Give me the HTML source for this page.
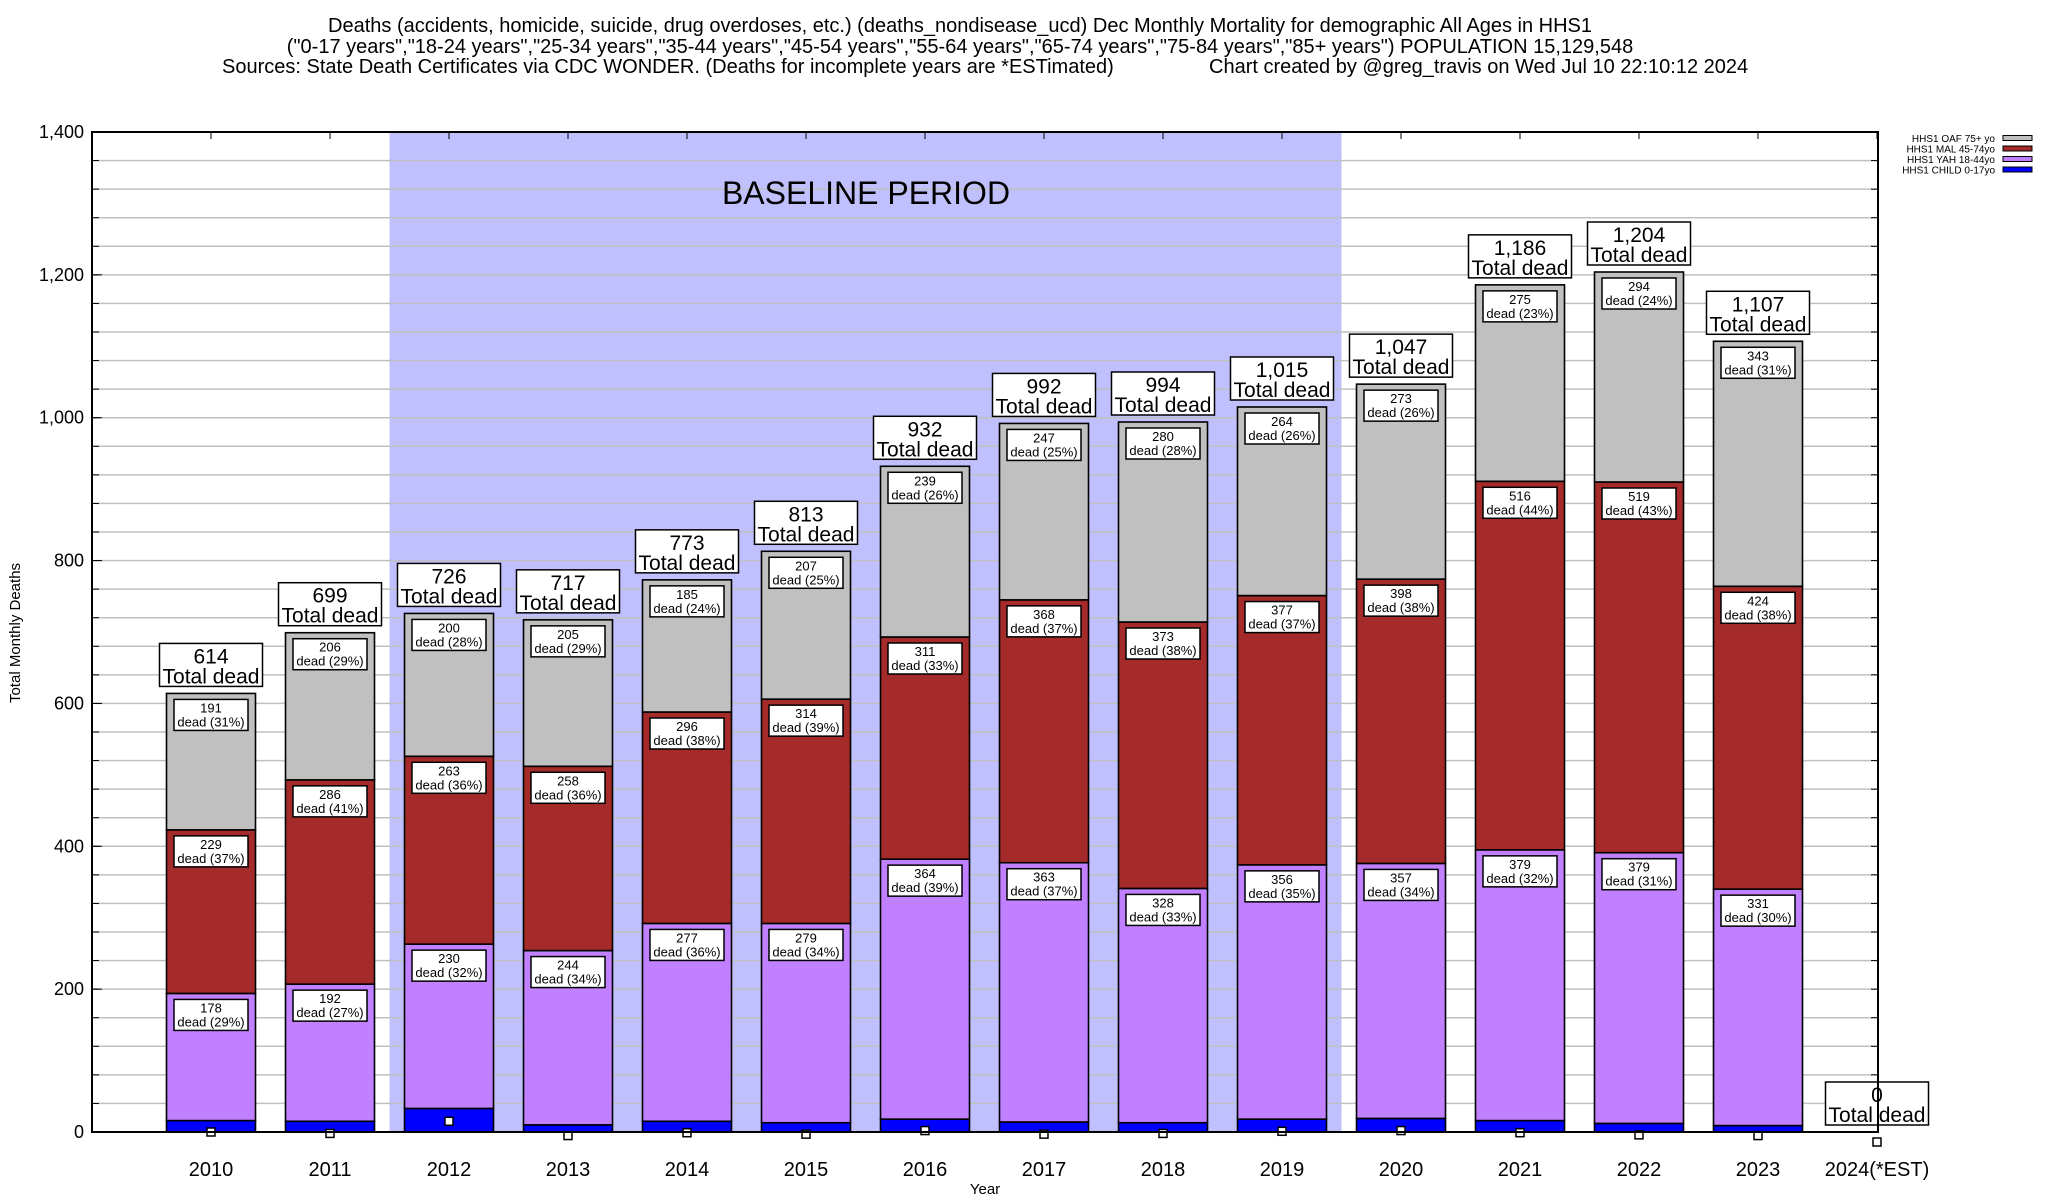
<!DOCTYPE html>
<html><head><meta charset="utf-8"><style>
body{margin:0;background:#fff;}
svg{display:block;font-family:"Liberation Sans",Arial,sans-serif;}
</style></head><body>
<svg id="chart" width="2048" height="1200" viewBox="0 0 2048 1200" xmlns="http://www.w3.org/2000/svg">
<g font-size="20" fill="#000">
<text x="960" y="32" text-anchor="middle">Deaths (accidents, homicide, suicide, drug overdoses, etc.) (deaths_nondisease_ucd) Dec Monthly Mortality for demographic All Ages in HHS1</text>
<text x="960" y="53" text-anchor="middle">("0-17 years","18-24 years","25-34 years","35-44 years","45-54 years","55-64 years","65-74 years","75-84 years","85+ years") POPULATION 15,129,548</text>
<text x="222" y="73">Sources: State Death Certificates via CDC WONDER. (Deaths for incomplete years are *ESTimated)</text>
<text x="1209" y="73">Chart created by @greg_travis on Wed Jul 10 22:10:12 2024</text>
</g>
<g id="plot"></g>
</svg>
<script>
const categories=["2010","2011","2012","2013","2014","2015","2016","2017","2018","2019","2020","2021","2022","2023","2024(*EST)"];
const childVals=[16,15,33,10,15,13,18,14,13,18,19,16,12,9,0];
const yahVals=[178,192,230,244,277,279,364,363,328,356,357,379,379,331,0];
const malVals=[229,286,263,258,296,314,311,368,373,377,398,516,519,424,0];
const oafVals=[191,206,200,205,185,207,239,247,280,264,273,275,294,343,0];
const totals=[614,699,726,717,773,813,932,992,994,1015,1047,1186,1204,1107,0];
const markerVals=[0,-2,15,-5,-1,-3,2,-3,-2,1,2,-1,-4,-5,-14];
const yTicks=[0,200,400,600,800,1000,1200,1400];
const baselineStart=2, baselineEnd=9;

const NS="http://www.w3.org/2000/svg";
const plot=document.getElementById('plot');
const L=92,R=1878,T=132,B=1132,step=119;
const x=i=>L+(i+1)*step;
const y=v=>B-v*(B-T)/1400;
function mk(tag,attrs,parent){const e=document.createElementNS(NS,tag);for(const k in attrs)e.setAttribute(k,attrs[k]);(parent||plot).appendChild(e);return e;}
function fmt(n){return n.toLocaleString('en-US');}

let sh=mk('rect',{x:x(baselineStart)-step/2,y:T,width:(baselineEnd-baselineStart+1)*step,height:B-T,fill:'#c0c0ff'});


for(let v=40;v<1400;v+=40){
  let g=mk('line',{x1:L,x2:R,y1:y(v),y2:y(v),stroke:'#c0c0c0','stroke-width':1.5});
  
  
  mk('line',{x1:L,x2:L+7,y1:y(v),y2:y(v),stroke:'#000'});
  mk('line',{x1:R-7,x2:R,y1:y(v),y2:y(v),stroke:'#000'});
}
let bt=mk('text',{x:866,y:204,'font-size':32,'text-anchor':'middle'});
bt.textContent='BASELINE PERIOD';



yTicks.forEach(v=>{
  let t=mk('text',{x:84,y:y(v)+6,'font-size':18,'text-anchor':'end'});
  t.textContent=fmt(v);
  
  
  mk('line',{x1:L,x2:L+10,y1:y(v),y2:y(v),stroke:'#000'});
});
const colors=['#0000ff','#c080ff','#a52a2a','#c0c0c0'];
const names=['child','yah','mal','oaf'];
const series=[childVals,yahVals,malVals,oafVals];
categories.forEach((c,i)=>{
  const cx=x(i),w=89;
  mk('line',{x1:cx,x2:cx,y1:T,y2:T+7,stroke:'#000'});
  let base=0;
  if(totals[i]>0){
  series.forEach((s,k)=>{
    const v=s[i];
    let r=mk('rect',{x:cx-w/2,y:y(base+v),width:w,height:y(base)-y(base+v),fill:colors[k],stroke:'#000','stroke-width':1.6});
    
    
    if(k>0){
      const top=y(base+v);
      let bx=mk('rect',{x:cx-37,y:top+6,width:74,height:31,fill:'#fff',stroke:'#000','stroke-width':1.5});
      
      
      let t1=mk('text',{x:cx,y:top+19,'font-size':13,'text-anchor':'middle'});t1.textContent=v;
      
      
      let t2=mk('text',{x:cx,y:top+33,'font-size':13,'text-anchor':'middle'});t2.textContent='dead ('+Math.round(v/totals[i]*100)+'%)';
      
      
    }
    base+=v;
  });
  }
  const tt=y(totals[i]);
  const bw=103, bxc=cx;
  let tb=mk('rect',{x:bxc-bw/2,y:tt-50,width:bw,height:43,fill:'#fff',stroke:'#000','stroke-width':1.5});
  
  
  let a=mk('text',{x:bxc,y:tt-30,'font-size':21,'text-anchor':'middle'});a.textContent=fmt(totals[i]);
  
  
  let b=mk('text',{x:bxc,y:tt-10,'font-size':21,'text-anchor':'middle'});b.textContent='Total dead';
  
  
  let m=mk('rect',{x:cx-4,y:y(markerVals[i])-4,width:8,height:8,fill:'#fff',stroke:'#000','stroke-width':1.5});
  
  
  let xl=mk('text',{x:cx,y:1176,'font-size':20,'text-anchor':'middle'});xl.textContent=c;
  
  
});
let fr=mk('rect',{x:L,y:T,width:R-L,height:B-T,fill:'none',stroke:'#000','stroke-width':2});


let yt=mk('text',{x:0,y:0,'font-size':15,'text-anchor':'middle',transform:'translate(20,633) rotate(-90)'});yt.textContent='Total Monthly Deaths';


let xt=mk('text',{x:985,y:1194,'font-size':15,'text-anchor':'middle'});xt.textContent='Year';


const legNames=['HHS1 OAF 75+ yo','HHS1 MAL 45-74yo','HHS1 YAH 18-44yo','HHS1 CHILD 0-17yo'];
const legColors=['#c0c0c0','#a52a2a','#c080ff','#0000ff'];
legNames.forEach((n,k)=>{
  const ly=138+k*10.5;
  let t=mk('text',{x:1995,y:ly+4,'font-size':10,'text-anchor':'end'});t.textContent=n;
  
  
  let s=mk('rect',{x:2003,y:ly-2.5,width:29,height:5,fill:legColors[k],stroke:'#000','stroke-width':1});
  
  
});
</script>
</body></html>
